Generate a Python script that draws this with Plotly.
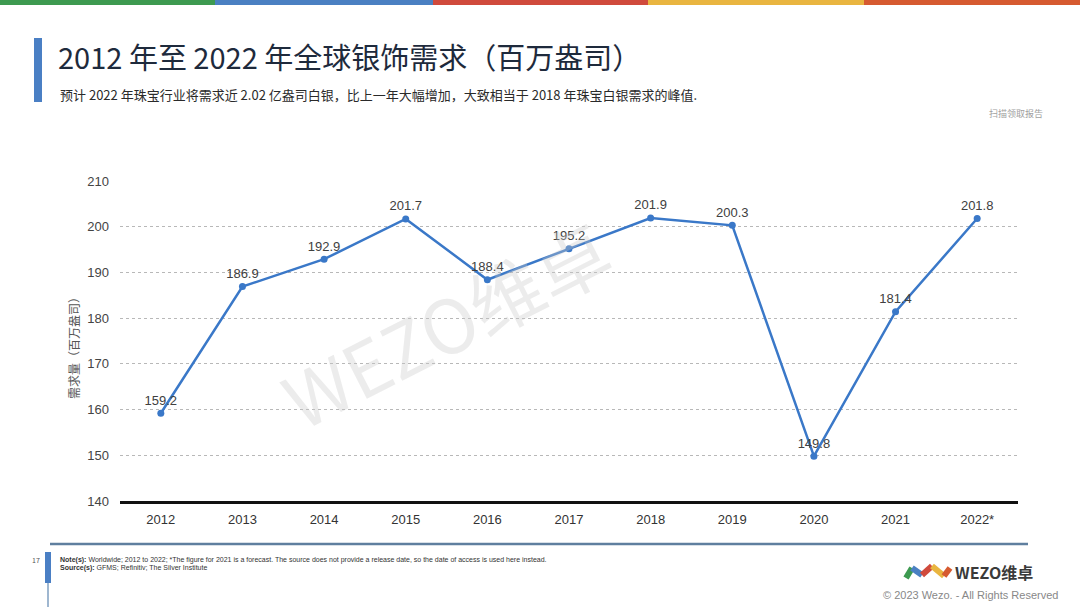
import plotly.graph_objects as go

# ---- data ----
years = ["2012", "2013", "2014", "2015", "2016", "2017", "2018", "2019", "2020", "2021", "2022*"]
demand = [159.2, 186.9, 192.9, 201.7, 188.4, 195.2, 201.9, 200.3, 149.8, 181.4, 201.8]
y_ticks = [140, 150, 160, 170, 180, 190, 200, 210]

title_text = "2012 年至 2022 年全球银饰需求（百万盎司）"
subtitle_text = "预计 2022 年珠宝行业将需求近 2.02 亿盎司白银，比上一年大幅增加，大致相当于 2018 年珠宝白银需求的峰值."
y_title = "需求量（百万盎司）"

W, H = 1080, 607
L, R, T, B = 120, 62, 181, 106
PW, PH = W - L - R, H - T - B

def px(x):
    return (x - L) / PW

def py(y):
    return (H - B - y) / PH

FONT = "Liberation Sans, Arial, Noto Sans CJK SC, sans-serif"
CJK = "Noto Sans CJK SC, Liberation Sans, sans-serif"

fig = go.Figure()
fig.add_trace(go.Scatter(
    x=years, y=demand, mode="lines+markers+text",
    line=dict(color="#3a78c8", width=2.5),
    marker=dict(color="#3a78c8", size=7),
    text=[f"{v:.1f}" for v in demand],
    textposition="top center",
    textfont=dict(family=FONT, size=13, color="#404040"),
    cliponaxis=False,
    hoverinfo="x+y",
))

shapes = []
# top stripe
stripe_cols = ["#3d9a50", "#4a80c2", "#d04a3c", "#e9b540", "#d65a30"]
bounds = [0, 215, 433, 648, 864, 1080]
for i, c in enumerate(stripe_cols):
    shapes.append(dict(type="rect", xref="paper", yref="paper",
                       x0=px(bounds[i]), x1=px(bounds[i + 1]), y0=py(5), y1=py(0),
                       fillcolor=c, line=dict(width=0), layer="above"))
# title bar
shapes.append(dict(type="rect", xref="paper", yref="paper",
                   x0=px(34), x1=px(42), y0=py(102), y1=py(38),
                   fillcolor="#4a7fc4", line=dict(width=0)))
# footer line
shapes.append(dict(type="line", xref="paper", yref="paper",
                   x0=px(50), x1=px(1028), y0=py(544), y1=py(544),
                   line=dict(color="#5f7f9f", width=2.5)))
# footer bar
shapes.append(dict(type="rect", xref="paper", yref="paper",
                   x0=px(45), x1=px(51), y0=py(583), y1=py(552),
                   fillcolor="#4a7fc4", line=dict(width=0)))
shapes.append(dict(type="line", xref="paper", yref="paper",
                   x0=px(48), x1=px(48), y0=py(607), y1=py(583),
                   line=dict(color="#7f9fc0", width=1.5)))
# logo swoosh
logo = [("#3d9a50", [(906, 578), (912, 568)]),
        ("#4a80c2", [(912, 568), (922, 575)]),
        ("#d04a3c", [(922, 575), (932, 566)]),
        ("#e9b540", [(932, 566), (944, 576)]),
        ("#d65a30", [(944, 576), (950, 568)])]
for c, pts in logo:
    shapes.append(dict(type="line", xref="paper", yref="paper",
                       x0=px(pts[0][0]), y0=py(pts[0][1]), x1=px(pts[1][0]), y1=py(pts[1][1]),
                       line=dict(color=c, width=6)))

annotations = []
def ann(text, x, y, size, color, xanchor="left", yanchor="middle", family=CJK, angle=0):
    annotations.append(dict(text=text, xref="paper", yref="paper", x=px(x), y=py(y),
                            xanchor=xanchor, yanchor=yanchor, showarrow=False,
                            textangle=angle,
                            font=dict(family=family, size=size, color=color)))

ann(title_text, 56, 56, 29, "#1e2a3c")
ann(subtitle_text, 58, 95, 13, "#2a2a2a")
ann("扫描领取报告", 1045, 113, 9, "#a0a0a0", xanchor="right")
ann(y_title, 73, 345, 12, "#555555", xanchor="center", angle=-90)
ann("WEZO维卓", 445, 322, 74, "rgba(200,200,200,0.35)", xanchor="center", angle=-27)
ann("17", 36, 560, 7, "#555555", xanchor="center")
ann("<b>Note(s):</b> Worldwide; 2012 to 2022; *The figure for 2021 is a forecast. The source does not provide a release date, so the date of access is used here instead.",
    58, 560, 7, "#333333", family=FONT)
ann("<b>Source(s):</b> GFMS; Refinitiv; The Silver Institute", 58, 568, 7, "#333333", family=FONT)
ann("<b>WEZO维卓</b>", 953, 572, 16, "#3a3a3a")
ann("© 2023 Wezo. - All Rights Reserved", 1060, 595, 11, "#888888", xanchor="right", family=FONT)

fig.update_layout(
    width=W, height=H,
    margin=dict(l=L, r=R, t=T, b=B, pad=0),
    paper_bgcolor="white", plot_bgcolor="white",
    showlegend=False,
    font=dict(family=FONT, size=13, color="#404040"),
    xaxis=dict(type="category", range=[-0.5, 10.5], showgrid=False,
               showline=True, linecolor="#111111", linewidth=3,
               ticks="", tickfont=dict(size=13, color="#333333"), ticklabelstandoff=4,
               fixedrange=True),
    yaxis=dict(range=[140, 210], tickvals=y_ticks, showgrid=True,
               gridcolor="#b8b8b8", griddash="dot", gridwidth=1,
               zeroline=False, showline=False, ticks="",
               tickfont=dict(size=13, color="#444444"), ticklabelstandoff=10,
               fixedrange=True),
    shapes=shapes,
    annotations=annotations,
)

fig.write_html("out.html", config={"displayModeBar": False},
               post_script="document.body.style.margin='0';document.body.style.overflow='hidden';")
